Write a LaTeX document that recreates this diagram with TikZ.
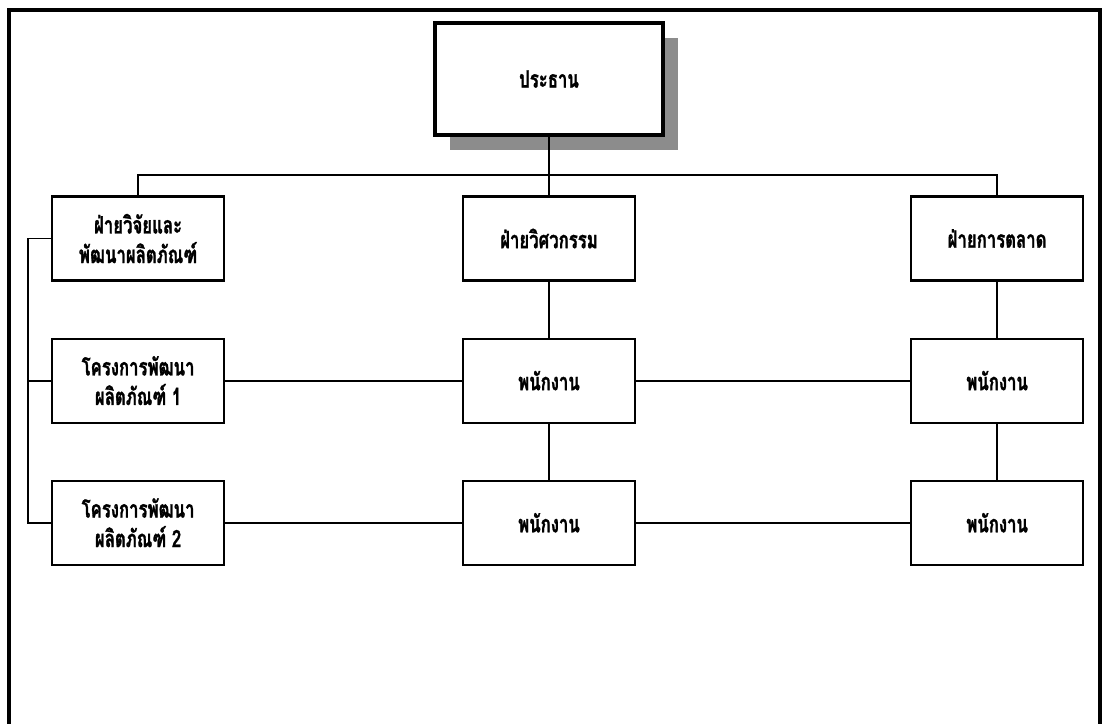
\documentclass[tikz,border=0pt]{standalone}
\usepackage{fontspec}
\newfontfamily\thaifont[Script=Thai,FakeStretch=0.7,FakeBold=1.2]{Loma}
\usepackage{tikz}
\usetikzlibrary{positioning,shadows}
\tikzset{
  unit/.style={draw, line width=1.5pt, align=center, font=\thaifont\bfseries\fontsize{17}{21}\selectfont,
               minimum width=4.3cm, minimum height=2.1cm, inner sep=2pt, fill=white},
  chairbox/.style={unit, line width=3.5pt, minimum width=5.7cm, minimum height=2.8cm,
               drop shadow={shadow xshift=0.38cm, shadow yshift=-0.38cm, fill=black!45, opacity=1}},
  link/.style={draw, line width=1.3pt},
  frame/.style={draw, line width=2.8pt},
}

\begin{document}
\begin{tikzpicture}[node distance=1.4cm and 5.92cm]
  \useasboundingbox (0,0) rectangle (27.625,-18.1);
  % outer frame, open at the bottom
  \draw[frame] (0.23,-18.1) |- (27.5,-0.25) -- (27.5,-18.1);

  \node[chairbox] (chair) at (13.725,-1.975) {ประธาน};

  % departments
  \node[unit, below=1.45cm of chair] (eng) {ฝ่ายวิศวกรรม};
  \node[unit, left=of eng] (rnd) {ฝ่ายวิจัยและ\\พัฒนาผลิตภัณฑ์};
  \node[unit, right=6.85cm of eng] (mkt) {ฝ่ายการตลาด};

  % projects and staff
  \node[unit, below=of rnd] (proj1) {โครงการพัฒนา\\ผลิตภัณฑ์ 1};
  \node[unit, below=of proj1] (proj2) {โครงการพัฒนา\\ผลิตภัณฑ์ 2};
  \node[unit, below=of eng] (eng1) {พนักงาน};
  \node[unit, below=of eng1] (eng2) {พนักงาน};
  \node[unit, below=of mkt] (mkt1) {พนักงาน};
  \node[unit, below=of mkt1] (mkt2) {พนักงาน};

  \coordinate (bus) at ([yshift=-0.93cm]chair.south);
  \coordinate (spine) at ([xshift=-0.58cm]rnd.west);

  \draw[link] (chair.south) -- (eng.north);
  \draw[link] (rnd.north) |- (bus) -| (mkt.north);
  \draw[link] (rnd.west) -- (spine) |- (proj2.west);
  \draw[link] (proj1.west) -- (proj1.west -| spine);

  \draw[link] (eng.south) -- (eng1.north);
  \draw[link] (eng1.south) -- (eng2.north);
  \draw[link] (mkt.south) -- (mkt1.north);
  \draw[link] (mkt1.south) -- (mkt2.north);

  \draw[link] (proj1.east) -- (eng1.west);
  \draw[link] (eng1.east) -- (mkt1.west);
  \draw[link] (proj2.east) -- (eng2.west);
  \draw[link] (eng2.east) -- (mkt2.west);
\end{tikzpicture}
\end{document}
